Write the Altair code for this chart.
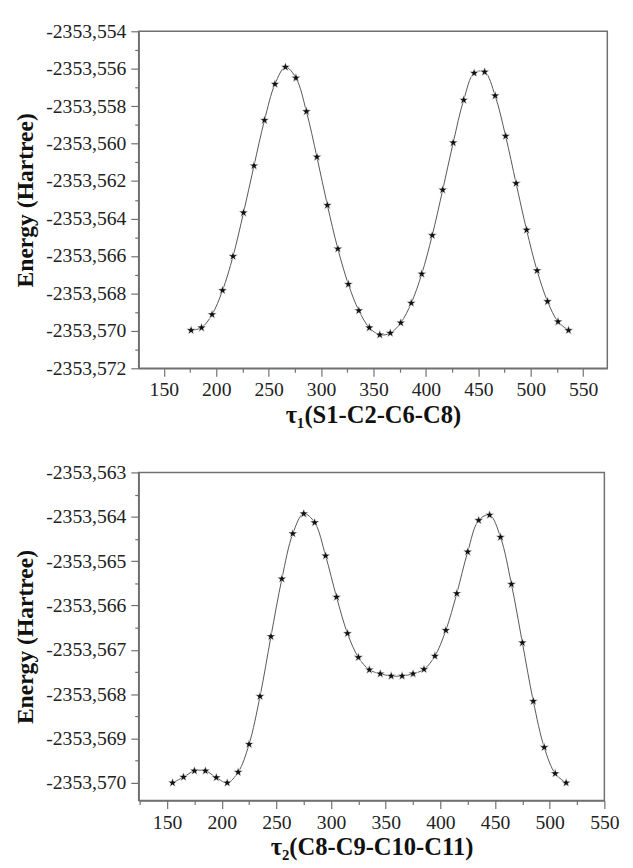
import altair as alt
import pandas as pd

# ---- data ----
tau1 = [176, 186, 196, 206, 216, 226, 236, 246, 256, 266, 276, 286, 296, 306, 316, 326, 336,
        346, 356, 366, 376, 386, 396, 406, 416, 426, 436, 446, 456, 466, 476, 486, 496, 506,
        516, 526, 536]
energy1 = [-2353.56997, -2353.56983, -2353.56913, -2353.56784, -2353.56602, -2353.56369,
           -2353.56118, -2353.55875, -2353.55682, -2353.55591, -2353.55649, -2353.55828,
           -2353.56071, -2353.56329, -2353.56562, -2353.56751, -2353.56892, -2353.56983,
           -2353.57021, -2353.57012, -2353.56957, -2353.56852, -2353.56696, -2353.56490,
           -2353.56247, -2353.55995, -2353.55767, -2353.55623, -2353.55617, -2353.55744,
           -2353.55960, -2353.56212, -2353.56461, -2353.56678, -2353.56843, -2353.56951,
           -2353.56997]

tau2 = [155, 165, 175, 185, 195, 205, 215, 225, 235, 245, 255, 265, 275, 285, 295, 305, 315,
        325, 335, 345, 355, 365, 375, 385, 395, 405, 415, 425, 435, 445, 455, 465, 475, 485,
        495, 505, 515]
energy2 = [-2353.57000, -2353.56987, -2353.56973, -2353.56973, -2353.56988, -2353.57000,
           -2353.56976, -2353.56913, -2353.56805, -2353.56670, -2353.56540, -2353.56438,
           -2353.56393, -2353.56413, -2353.56488, -2353.56581, -2353.56663, -2353.56717,
           -2353.56745, -2353.56754, -2353.56759, -2353.56759, -2353.56754, -2353.56744,
           -2353.56714, -2353.56656, -2353.56573, -2353.56479, -2353.56408, -2353.56396,
           -2353.56446, -2353.56552, -2353.56684, -2353.56816, -2353.56920, -2353.56979,
           -2353.57000]

# axis ticks (major + minor)
x1_ticks = [150, 175, 200, 225, 250, 275, 300, 325, 350, 375, 400, 425, 450, 475, 500, 525, 550]
x2_ticks = [125, 150, 175, 200, 225, 250, 275, 300, 325, 350, 375, 400, 425, 450, 475, 500, 525, 550]
y1_ticks = [-2353.572, -2353.571, -2353.570, -2353.569, -2353.568, -2353.567, -2353.566,
            -2353.565, -2353.564, -2353.563, -2353.562, -2353.561, -2353.560, -2353.559,
            -2353.558, -2353.557, -2353.556, -2353.555, -2353.554]
y2_ticks = [-2353.5700, -2353.5695, -2353.5690, -2353.5685, -2353.5680, -2353.5675,
            -2353.5670, -2353.5665, -2353.5660, -2353.5655, -2353.5650, -2353.5645,
            -2353.5640, -2353.5635, -2353.5630]

title1 = "τ₁(S1-C2-C6-C8)"
title2 = "τ₂(C8-C9-C10-C11)"
ytitle = "Energy (Hartree)"

SERIF = "Liberation Serif"
FRAME = "#707070"
BASE = -2353.0  # plotted as milli-Hartree offset from this, labelled back in Hartree
STAR = ("M0,-1L0.235,-0.324L0.951,-0.309L0.380,0.124L0.588,0.809L0,0.4L-0.588,0.809"
        "L-0.380,0.124L-0.951,-0.309L-0.235,-0.324Z")


def mha(v):
    return round((v - BASE) * 1000.0, 3)


df1 = pd.DataFrame({"angle": tau1, "m": [mha(v) for v in energy1]})
df2 = pd.DataFrame({"angle": tau2, "m": [mha(v) for v in energy2]})


def xaxis(values, title):
    test = "datum.value % 50 == 0"
    return alt.Axis(
        values=values, title=title,
        labelExpr=f"{test} ? format(datum.value, 'd') : ''",
        tickSize=8,
        tickDash={"condition": {"test": test, "value": [8, 0]}, "value": [4, 20]},
        tickColor=FRAME, tickWidth=1.2, domainColor=FRAME, domainWidth=1.5,
        labelFont=SERIF, labelFontSize=20, labelColor="#222", labelPadding=4,
        titleFont=SERIF, titleFontSize=25, titleFontWeight="bold", titleColor="#111",
        titlePadding=3, grid=False, labelFlush=False)


def yaxis(values, step2, title):
    test = f"abs(round(datum.value*1000)) % {step2} == 0"
    return alt.Axis(
        values=[mha(v) for v in values], title=title,
        labelExpr=f"{test} ? '-2353,' + format(-datum.value, '03d') : ''",
        tickSize=8,
        tickDash={"condition": {"test": test, "value": [8, 0]}, "value": [4, 20]},
        tickColor=FRAME, tickWidth=1.2, domainColor=FRAME, domainWidth=1.5,
        labelFont=SERIF, labelFontSize=20, labelColor="#222", labelPadding=5,
        titleFont=SERIF, titleFontSize=24, titleFontWeight="bold", titleColor="#111",
        titlePadding=8, grid=False, labelFlush=False, labelOverlap=False)


def panel(df, xdom, ydom, xt, yt, step2, xtitle, w, h):
    x = alt.X("angle:Q", scale=alt.Scale(domain=xdom, nice=False, zero=False), axis=xaxis(xt, xtitle))
    y = alt.Y("m:Q", scale=alt.Scale(domain=[mha(v) for v in ydom], nice=False, zero=False),
              axis=yaxis(yt, step2, ytitle))
    line = alt.Chart(df).mark_line(color="#555", strokeWidth=1.0, interpolate="catmull-rom").encode(x=x, y=y)
    pts = alt.Chart(df).mark_point(shape=STAR, filled=True, color="#111", size=100, opacity=1,
                                   stroke="white", strokeWidth=0.6).encode(x=x, y=y)
    return alt.layer(line, pts).properties(width=w, height=h)


top = panel(df1, [126, 573], [-2353.572, -2353.554], x1_ticks, y1_ticks, 2000, title1, 477, 343)
bottom = panel(df2, [124, 550], [-2353.5704, -2353.563], x2_ticks, y2_ticks, 1000, title2, 474, 334)

chart = alt.vconcat(top, bottom, spacing=34).configure_view(stroke=FRAME, strokeWidth=1.5)

chart.save("out.html", embed_options={"renderer": "svg", "actions": False})
